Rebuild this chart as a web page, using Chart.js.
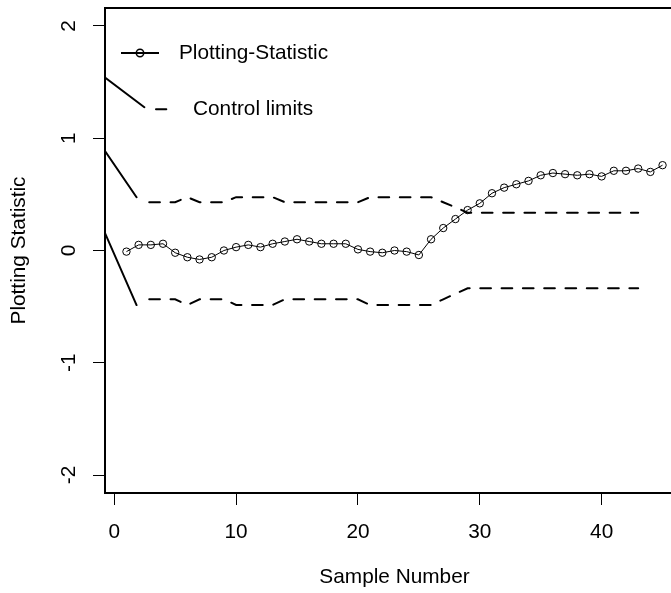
<!DOCTYPE html>
<html>
<head>
<meta charset="utf-8">
<title>Plotting Statistic</title>
<script src="https://cdn.jsdelivr.net/npm/chart.js@4.4.1/dist/chart.umd.min.js"></script>
<style>
  html, body { margin: 0; padding: 0; background: #fff; overflow: hidden; }
  #wrap { width: 690px; height: 593px; }
</style>
</head>
<body>
<div id="wrap"><canvas id="chart" width="690" height="593"></canvas></div>
<script>
// ── Data ───────────────────────────────────────────────────
const sampleNumbers = [1, 2, 3, 4, 5, 6, 7, 8, 9, 10, 11, 12, 13, 14, 15, 16, 17, 18, 19, 20,
    21, 22, 23, 24, 25, 26, 27, 28, 29, 30, 31, 32, 33, 34, 35, 36, 37, 38, 39, 40,
    41, 42, 43, 44, 45];
const plottingStatistic = [-0.01, 0.05, 0.05, 0.06, -0.02, -0.06, -0.08, -0.06, 0.00, 0.03,
    0.05, 0.03, 0.06, 0.08, 0.10, 0.08, 0.06, 0.06, 0.06, 0.01,
    -0.01, -0.02, 0.00, -0.01, -0.04, 0.10, 0.20, 0.28, 0.36, 0.42,
    0.51, 0.56, 0.59, 0.62, 0.67, 0.69, 0.68, 0.67, 0.68, 0.66,
    0.71, 0.71, 0.73, 0.70, 0.76];

const limitSamples = [2, 3, 4, 5, 6, 7, 8, 9, 10, 11, 12, 13, 14, 15, 16, 17, 18, 19, 20,
    21, 22, 23, 24, 25, 26, 27, 28, 29, 30, 31, 32, 33, 34, 35, 36, 37, 38, 39, 40,
    41, 42, 43, 44];
const upperLimit = [0.43, 0.43, 0.43, 0.43, 0.475, 0.43, 0.43, 0.43, 0.475, 0.475, 0.475, 0.475,
    0.43, 0.43, 0.43, 0.43, 0.43, 0.43, 0.43, 0.475, 0.475, 0.475, 0.475, 0.475, 0.475,
    0.43, 0.385, 0.337, 0.337, 0.337, 0.337, 0.337, 0.337, 0.337, 0.337, 0.337, 0.337,
    0.337, 0.337, 0.337, 0.337, 0.337];
const lowerLimit = [-0.435, -0.435, -0.435, -0.435, -0.485, -0.435, -0.435, -0.435, -0.485, -0.485, -0.485, -0.485,
    -0.435, -0.435, -0.435, -0.435, -0.435, -0.435, -0.435, -0.485, -0.485, -0.485, -0.485, -0.485, -0.485,
    -0.435, -0.385, -0.337, -0.337, -0.337, -0.337, -0.337, -0.337, -0.337, -0.337, -0.337, -0.337,
    -0.337, -0.337, -0.337, -0.337, -0.337];

// solid lead-in strokes at the left edge
const startX     = [-0.76, 1.83];
const startUpper = [0.886, 0.474];
const startLower = [0.155, -0.486];
const stubX      = [-0.76, 2.47];
const stubY      = [1.54, 1.276];

const xTicks = [0, 10, 20, 30, 40];
const yTicks = [-2, -1, 0, 1, 2];
const xRange = [-0.76, 46.76];
const yRange = [-2.16, 2.16];

// ── Helpers ────────────────────────────────────────────────
const FONT = "'Liberation Sans', Arial, sans-serif";
const FONT_SIZE = 20.8;
const toPoints = (xs, ys) => xs.map((x, i) => ({ x: x, y: ys[i] }));

Chart.defaults.font.family = FONT;
Chart.defaults.font.size = FONT_SIZE;
Chart.defaults.color = "#000";

// ── Plugins ────────────────────────────────────────────────
const framePlugin = {
    id: "frame",
    afterDraw(chart) {
        const { ctx, chartArea: a } = chart;
        ctx.save();
        ctx.strokeStyle = "#000";
        ctx.lineWidth = 2;
        ctx.beginPath();
        ctx.moveTo(a.left, a.top);
        ctx.lineTo(a.right, a.top);
        ctx.lineTo(a.right, a.bottom);
        ctx.stroke();
        ctx.restore();
    },
};

// R-style y labels, rotated and centred on each tick
const yLabelPlugin = {
    id: "yLabels",
    afterDraw(chart) {
        const ctx = chart.ctx;
        const ys = chart.scales.y;
        ctx.save();
        ctx.fillStyle = "#000";
        ctx.font = FONT_SIZE + "px " + FONT;
        ctx.textAlign = "center";
        ctx.textBaseline = "middle";
        ys.ticks.forEach(t => {
            ctx.save();
            ctx.translate(69, ys.getPixelForValue(t.value));
            ctx.rotate(-Math.PI / 2);
            ctx.fillText(String(t.value), 0, 0);
            ctx.restore();
        });
        ctx.restore();
    },
};

const legendPlugin = {
    id: "rLegend",
    afterDraw(chart) {
        const ctx = chart.ctx;
        ctx.save();
        ctx.strokeStyle = "#000";
        ctx.lineWidth = 2;
        ctx.beginPath();
        ctx.moveTo(121, 53);
        ctx.lineTo(159, 53);
        ctx.stroke();
        ctx.lineWidth = 1.5;
        ctx.beginPath();
        ctx.arc(140, 53, 3.7, 0, Math.PI * 2);
        ctx.stroke();
        ctx.lineWidth = 2;
        ctx.lineCap = "round";
        ctx.beginPath();
        ctx.moveTo(156, 109.3);
        ctx.lineTo(166.3, 109.3);
        ctx.stroke();
        ctx.fillStyle = "#000";
        ctx.font = FONT_SIZE + "px " + FONT;
        ctx.textAlign = "left";
        ctx.textBaseline = "middle";
        ctx.fillText("Plotting-Statistic", 179, 53);
        ctx.fillText("Control limits", 193, 109);
        ctx.restore();
    },
};

// ── Chart ──────────────────────────────────────────────────
const limitStyle = {
    borderColor: "#000",
    borderWidth: 2,
    borderDash: [10.7, 10.6],
    borderDashOffset: 10.7,
    borderCapStyle: "round",
    pointRadius: 0,
    showLine: true,
    fill: false,
};
const solidStyle = {
    borderColor: "#000",
    borderWidth: 2,
    borderCapStyle: "round",
    pointRadius: 0,
    showLine: true,
    fill: false,
};

const ctx = document.getElementById("chart").getContext("2d");
new Chart(ctx, {
    type: "scatter",
    data: {
        datasets: [
            { label: "Upper limit", data: toPoints(limitSamples, upperLimit), ...limitStyle },
            { label: "Lower limit", data: toPoints(limitSamples, lowerLimit), ...limitStyle },
            { label: "Upper start", data: toPoints(startX, startUpper), ...solidStyle },
            { label: "Lower start", data: toPoints(startX, startLower), ...solidStyle },
            { label: "Stub", data: toPoints(stubX, stubY), ...solidStyle },
            {
                label: "Plotting-Statistic",
                data: toPoints(sampleNumbers, plottingStatistic),
                showLine: true,
                borderColor: "#000",
                borderWidth: 1,
                pointRadius: 3.7,
                pointBorderWidth: 1,
                pointBorderColor: "#000",
                pointBackgroundColor: "rgba(0,0,0,0)",
                fill: false,
            },
        ],
    },
    options: {
        responsive: false,
        animation: false,
        devicePixelRatio: 1,
        layout: { padding: { top: 8, right: 6, left: 0, bottom: 0 } },
        plugins: {
            legend: { display: false },
            tooltip: { enabled: false },
        },
        scales: {
            x: {
                type: "linear",
                min: xRange[0],
                max: xRange[1],
                afterBuildTicks: s => { s.ticks = xTicks.map(v => ({ value: v })); },
                afterFit: s => { s.height = 100; },
                grid: { drawOnChartArea: false, drawTicks: true, tickLength: 12, tickColor: "#000", lineWidth: 1 },
                border: { display: true, color: "#000", width: 2 },
                ticks: { padding: 15, maxRotation: 0, color: "#000", font: { size: FONT_SIZE }, callback: v => String(v) },
                title: { display: true, text: "Sample Number", color: "#000", font: { size: FONT_SIZE }, padding: { top: 0, bottom: 3 } },
            },
            y: {
                type: "linear",
                min: yRange[0],
                max: yRange[1],
                afterBuildTicks: s => { s.ticks = yTicks.map(v => ({ value: v })); },
                afterFit: s => { s.width = 105; },
                grid: { drawOnChartArea: false, drawTicks: true, tickLength: 12, tickColor: "#000", lineWidth: 1 },
                border: { display: true, color: "#000", width: 2 },
                ticks: { display: false },
                title: { display: true, text: "Plotting Statistic", color: "#000", font: { size: FONT_SIZE }, padding: { top: 7, bottom: 0 } },
            },
        },
    },
    plugins: [framePlugin, yLabelPlugin, legendPlugin],
});
</script>
</body>
</html>
